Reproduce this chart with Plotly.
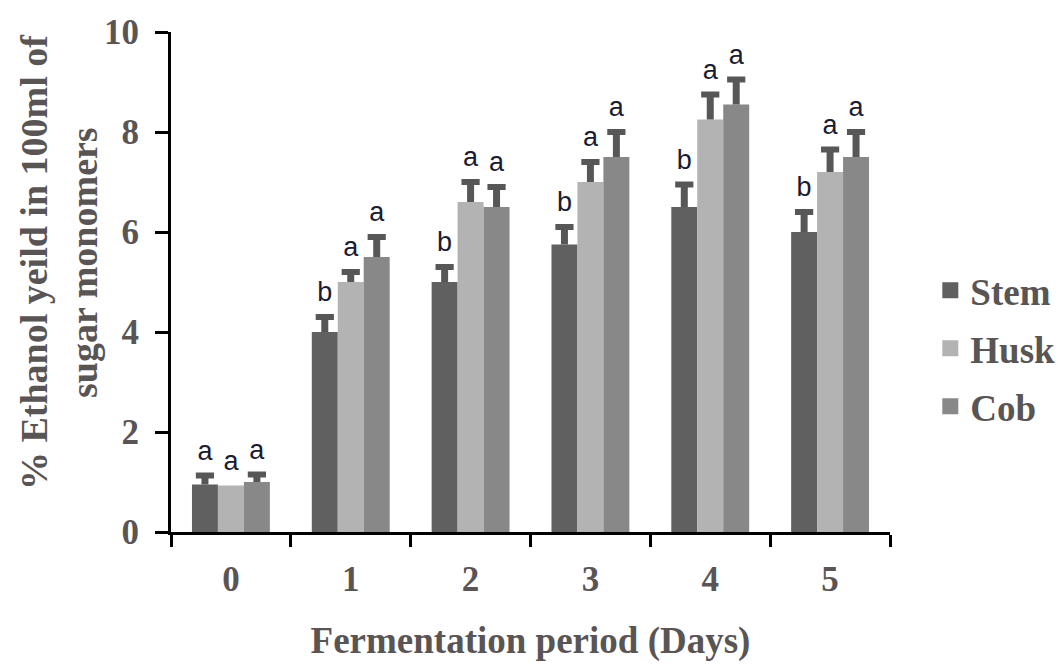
import plotly.graph_objects as go

days = ["0", "1", "2", "3", "4", "5"]
series_names = ["Stem", "Husk", "Cob"]
stem = [0.95, 4.0, 5.0, 5.75, 6.5, 6.0]
husk = [0.93, 5.0, 6.6, 7.0, 8.25, 7.2]
cob = [1.0, 5.5, 6.5, 7.5, 8.55, 7.5]
stem_err = [0.18, 0.3, 0.3, 0.35, 0.45, 0.4]
husk_err = [0.0, 0.2, 0.4, 0.4, 0.5, 0.45]
cob_err = [0.15, 0.4, 0.4, 0.5, 0.5, 0.5]
stem_letters = ["a", "b", "b", "b", "b", "b"]
husk_letters = ["a", "a", "a", "a", "a", "a"]
cob_letters = ["a", "a", "a", "a", "a", "a"]

colors = ["#606060", "#b3b3b3", "#888888"]
err_color = "#575757"
text_color = "#5a5555"
serif = "Liberation Serif"

values = [stem, husk, cob]
errors = [stem_err, husk_err, cob_err]
letters = [stem_letters, husk_letters, cob_letters]

fig = go.Figure()
for name, vals, errs, col in zip(series_names, values, errors, colors):
    fig.add_trace(go.Bar(
        x=days, y=vals, name=name, offsetgroup=name, alignmentgroup="g",
        marker=dict(color=col, line=dict(width=0)),
        error_y=dict(type="data", array=errs, arrayminus=[0] * len(errs),
                     symmetric=False, color=err_color, thickness=7, width=0),
        showlegend=False,
    ))

for name, vals, errs, labs in zip(series_names, values, errors, letters):
    tops = [v + e for v, e in zip(vals, errs)]
    cap_opacity = [1 if e > 0 else 0 for e in errs]
    fig.add_trace(go.Scatter(
        x=days, y=tops, mode="markers+text", text=labs,
        textposition="top center", offsetgroup=name, alignmentgroup="g",
        marker=dict(symbol="line-ew", size=13, color=err_color, opacity=cap_opacity,
                    line=dict(width=6, color=err_color)),
        textfont=dict(family="Liberation Sans", size=27, color="#1c1c30"),
        showlegend=False, cliponaxis=False,
    ))

for name, col in zip(series_names, colors):
    fig.add_trace(go.Scatter(
        x=[None], y=[None], mode="markers", name=name, legendgroup=name,
        marker=dict(symbol="square", size=18, color=col),
    ))

fig.update_layout(
    width=1062, height=664,
    margin=dict(l=171, r=172, t=32, b=132),
    paper_bgcolor="white", plot_bgcolor="white",
    barmode="group", bargap=0.35, bargroupgap=0,
    scattermode="group", scattergap=0.35,
    showlegend=True,
    legend=dict(xref="container", yref="container", x=0.876, y=0.475,
                xanchor="left", yanchor="middle",
                font=dict(family=serif, size=37, color=text_color, weight="bold"),
                tracegroupgap=7, itemsizing="trace"),
    xaxis=dict(
        type="category", categoryorder="array", categoryarray=days,
        showline=True, linecolor="black", linewidth=3,
        ticks="outside", tickson="boundaries", ticklen=12, tickwidth=3, tickcolor="black",
        tickfont=dict(family=serif, size=35, color=text_color, weight="bold"),
        ticklabelstandoff=14,
        title=dict(text="Fermentation period (Days)", standoff=30,
                   font=dict(family=serif, size=37, color=text_color, weight="bold")),
        showgrid=False, zeroline=False, automargin=False,
    ),
    yaxis=dict(
        range=[0, 10], tickvals=[0, 2, 4, 6, 8, 10],
        showline=True, linecolor="black", linewidth=3,
        ticks="outside", ticklen=13, tickwidth=3, tickcolor="black",
        tickfont=dict(family=serif, size=35, color=text_color, weight="bold"),
        ticklabelstandoff=9,
        showgrid=False, zeroline=False, automargin=False,
    ),
    annotations=[dict(
        text="% Ethanol yeild in 100ml of<br>sugar monomers",
        xref="paper", yref="paper", x=-0.157, y=0.54,
        xanchor="center", yanchor="middle", textangle=-90, showarrow=False,
        font=dict(family=serif, size=38, color=text_color, weight="bold"),
    )],
)

fig.write_html("out.html", config={"displayModeBar": False},
               post_script="document.body.style.margin='0';")
